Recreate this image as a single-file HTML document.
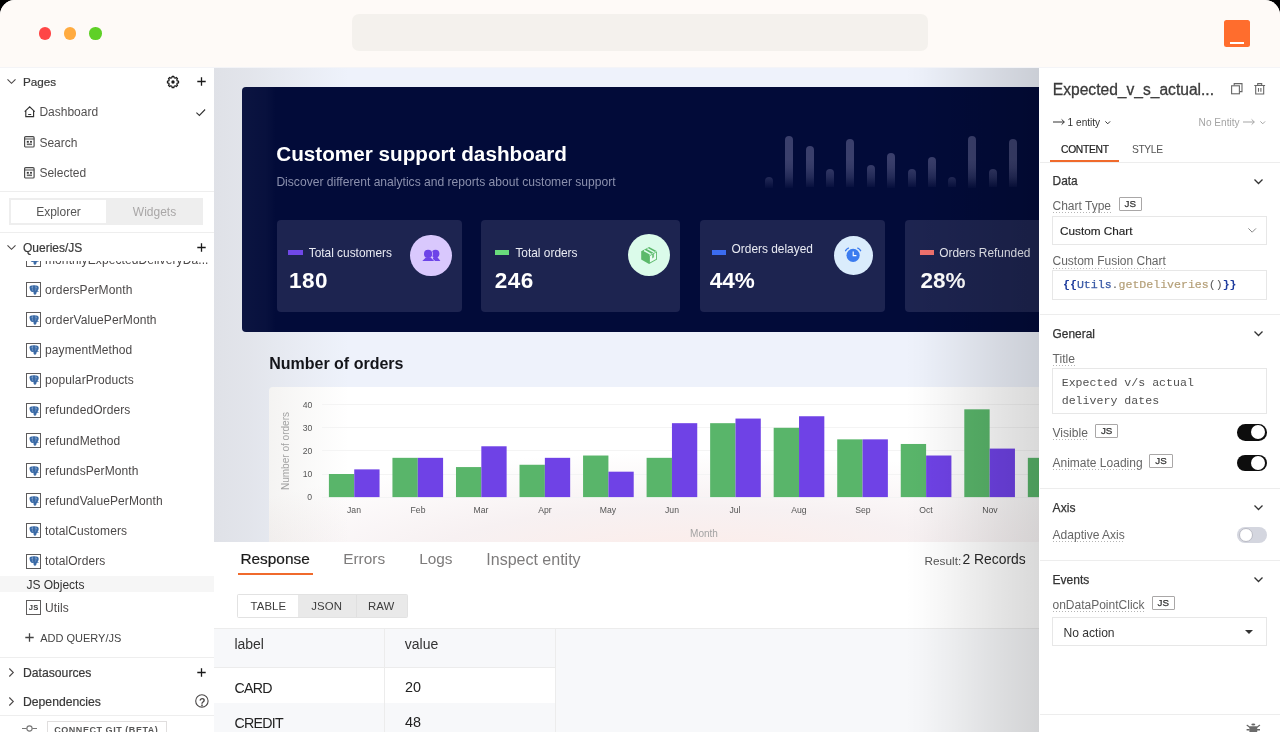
<!DOCTYPE html>
<html>
<head>
<meta charset="utf-8">
<title>Customer support dashboard</title>
<style>
*{box-sizing:border-box;margin:0;padding:0}
html,body{width:1280px;height:732px;overflow:hidden;background:#000;font-family:"Liberation Sans",sans-serif;}
#win{will-change:transform;position:absolute;left:0;top:0;width:1280px;height:732px;background:#fff;border-radius:15px 15px 0 0;overflow:hidden;}
.abs{position:absolute}
.t{position:absolute;white-space:nowrap;transform:translateY(-50%);line-height:1;color:#4b4848}
svg{position:absolute;overflow:visible}
/* title bar */
#tb{position:absolute;left:0;top:0;width:1280px;height:68px;background:#fefaf7;border-bottom:1px solid #f4f4f7}
.dot{position:absolute;width:12.6px;height:12.6px;border-radius:50%;top:27.2px}
#url{position:absolute;left:352px;top:14px;width:576px;height:37px;border-radius:7px;background:#f4f1ed}
#logo{position:absolute;left:1224.2px;top:19.5px;width:26px;height:27.2px;border-radius:2.5px;background:#ff6d2d}
#logo i{position:absolute;left:6px;top:22.6px;width:14px;height:2.1px;background:#fff}
/* sidebar */
#sb{position:absolute;left:0;top:68px;width:214px;height:664px;background:#fff;overflow:hidden}
.hr{position:absolute;left:0;height:1px;background:#eeeeee}
.sbh{font-size:13px;color:#393939;left:23px;-webkit-text-stroke:0.2px #393939}
.pg{font-size:12px;color:#514f4f;left:39.4px}
.q{font-size:12px;color:#4b4848;left:45px;letter-spacing:0.1px}
.qi{position:absolute;left:26.1px;width:15px;height:15px;border:1px solid #5e5c5c;background:#fff}

#cv{position:absolute;left:214px;top:68px;width:826px;height:475px;background:#eef2fb;overflow:hidden}
#bn{position:absolute;width:900px;height:244.5px;background:#020b39;border-radius:4px;overflow:hidden}
.db{position:absolute;width:8px;border-radius:4px 4px 0 0;background:#3a3f6c}
#dbf{position:absolute;left:518px;top:72px;width:270px;height:29px;background:linear-gradient(to bottom,rgba(2,11,57,0),rgba(2,11,57,0.12) 30%,rgba(2,11,57,0.4) 62%,rgba(2,11,57,0.95) 100%)}
.sc{position:absolute;background:#1d2450;border-radius:4px}
#cc{position:absolute;width:800px;height:200px;background:#fff;border-radius:4px 0 0 0;overflow:hidden;background:radial-gradient(ellipse 520px 110px at 420px 175px,#fdece8 0%,rgba(253,240,236,0.6) 50%,#fff 100%)}
.gl{position:absolute;left:53.3px;right:0;height:1px;background:#f4f4f4}
.ax{font-size:9.3px;color:#555;transform:translateY(-50%) scaleX(.93)}
#vl{position:absolute;left:0;top:0;width:135px;height:475px;background:linear-gradient(to right,rgba(121,109,93,0.125) 0,rgba(121,109,93,0.10) 25%,rgba(121,109,93,0.05) 60%,rgba(121,109,93,0) 100%)}

#bp{position:absolute;left:214px;top:542px;width:826px;height:190px;background:#fff;overflow:hidden}
.seg{font-size:11.4px;color:#3c3c3c;letter-spacing:0.1px}
.cell{font-size:14.2px;color:#222;letter-spacing:-0.7px}
#rp{position:absolute;left:1040px;top:68px;width:240px;height:664px;background:#fff;overflow:hidden}
.sh{color:#333;-webkit-text-stroke:0.25px #333}
.lb{color:#666}
.du{height:1px;background-image:linear-gradient(to right,#b5b5b5 50%,rgba(255,255,255,0) 50%);background-size:3px 1px}
.js{position:absolute;margin-top:-0.6px;width:23.6px;height:13.8px;border:1px solid #a9a7a7;border-radius:1px;background:#fff;font-size:9.8px;color:#333;-webkit-text-stroke:0.25px #333;text-align:center;line-height:12px}
.bx{border:1px solid #e7e7e7;background:#fff}
.mn{font-family:"Liberation Mono",monospace;font-size:11.6px;color:#505050}
#shd{position:absolute;left:905px;top:68px;width:134px;height:664px;background:linear-gradient(to right,rgba(0,0,0,0) 0%,rgba(0,0,0,0.012) 12%,rgba(0,0,0,0.045) 33%,rgba(0,0,0,0.105) 70%,rgba(0,0,0,0.148) 100%);pointer-events:none}
#edge{position:absolute;left:1039px;top:68px;width:2px;height:664px;background:#fff}
</style>
</head>
<body>
<div id="win">

<!-- ============ TITLE BAR ============ -->
<div id="tb">
  <div class="dot" style="left:38.8px;background:#ff4646"></div>
  <div class="dot" style="left:63.9px;background:#ffab40"></div>
  <div class="dot" style="left:89px;background:#5fd026"></div>
  <div id="url"></div>
  <div id="logo"><i></i></div>
</div>

<!-- ============ SIDEBAR ============ -->
<div id="sb">
<svg style="left:6.699999999999999px;top:11.4px" width="9" height="5" viewBox="0 0 9 5"><path d="M0.5 0.3 L4.5 4.3 L8.5 0.3" fill="none" stroke="#4b4848" stroke-width="1.1"/></svg>
<div class="t sbh" style="top:14.3px;font-size:11.7px">Pages</div>
<svg style="left:167px;top:8px" width="12" height="12" viewBox="0 0 12 12"><path d="M5.12 0.47L6.88 0.47L7.09 1.74L8.24 2.21L9.29 1.47L10.53 2.71L9.79 3.76L10.26 4.91L11.53 5.12L11.53 6.88L10.26 7.09L9.79 8.24L10.53 9.29L9.29 10.53L8.24 9.79L7.09 10.26L6.88 11.53L5.12 11.53L4.91 10.26L3.76 9.79L2.71 10.53L1.47 9.29L2.21 8.24L1.74 7.09L0.47 6.88L0.47 5.12L1.74 4.91L2.21 3.76L1.47 2.71L2.71 1.47L3.76 2.21L4.91 1.74Z" fill="none" stroke="#1a1a1a" stroke-width="1.250" stroke-linejoin="round"/><circle cx="6" cy="6" r="1.700" fill="#1a1a1a"/></svg>
<svg style="left:196.8px;top:9.4px" width="9" height="9" viewBox="0 0 9 9"><path d="M4.5 0.3V8.7M0.3 4.5H8.7" fill="none" stroke="#1a1a1a" stroke-width="1.3"/></svg>
<svg style="left:23.8px;top:38px" width="11.4" height="11.5" viewBox="0 0 22 23"><path d="M3.2 10.2V21.2H18.8V10.2M1 11.2L11 1.6L21 11.2M8 17H14" fill="none" stroke="#333" stroke-width="2.3" stroke-linejoin="miter"/></svg>
<div class="t pg" style="top:44.3px">Dashboard</div>
<svg style="left:196px;top:40.5px" width="9.5" height="7" viewBox="0 0 9.5 7"><path d="M0.4 3.6L3.4 6.4L9.1 0.5" fill="none" stroke="#333" stroke-width="1.1"/></svg>
<svg style="left:24.3px;top:68.4px" width="10.7" height="11.6" viewBox="0 0 21.4 23.2"><rect x="1.2" y="1.2" width="19" height="20.8" rx="2.2" fill="none" stroke="#4a4a4a" stroke-width="2.4"/><path d="M1.2 6H20.2" stroke="#4a4a4a" stroke-width="2.2"/><rect x="5.6" y="9.8" width="4" height="3.6" fill="#333"/><rect x="12" y="9.8" width="4" height="3.6" fill="#444"/><rect x="5.6" y="15" width="10.4" height="3.2" fill="#666"/></svg>
<div class="t pg" style="top:74.7px">Search</div>
<svg style="left:24.3px;top:98.5px" width="10.7" height="11.6" viewBox="0 0 21.4 23.2"><rect x="1.2" y="1.2" width="19" height="20.8" rx="2.2" fill="none" stroke="#4a4a4a" stroke-width="2.4"/><path d="M1.2 6H20.2" stroke="#4a4a4a" stroke-width="2.2"/><rect x="5.6" y="9.8" width="4" height="3.6" fill="#333"/><rect x="12" y="9.8" width="4" height="3.6" fill="#444"/><rect x="5.6" y="15" width="10.4" height="3.2" fill="#666"/></svg>
<div class="t pg" style="top:104.8px">Selected</div>
<div class="hr" style="top:122.5px;width:214px"></div>
<div class="abs" style="left:9px;top:130px;width:194.4px;height:26.6px;background:#eeeeee"></div>
<div class="abs" style="left:11px;top:132px;width:95px;height:23px;background:#fff"></div>
<div class="t" style="left:11px;width:95px;text-align:center;top:144px;font-size:12px;color:#555">Explorer</div>
<div class="t" style="left:106px;width:97px;text-align:center;top:144px;font-size:12px;color:#a9a7a7">Widgets</div>
<div class="hr" style="top:164px;width:214px"></div>
<svg style="left:6.7px;top:177.3px" width="9" height="5" viewBox="0 0 9 5"><path d="M0.5 0.3 L4.5 4.3 L8.5 0.3" fill="none" stroke="#4b4848" stroke-width="1.1"/></svg>
<div class="t sbh" style="top:180.3px;font-size:12px">Queries/JS</div>
<svg style="left:196.8px;top:175.3px" width="9" height="9" viewBox="0 0 9 9"><path d="M4.5 0.3V8.7M0.3 4.5H8.7" fill="none" stroke="#1a1a1a" stroke-width="1.3"/></svg>
<div class="abs" id="ql" style="left:0;top:192.8px;width:214px;height:320px;overflow:hidden">
<div class="qi" style="top:-8.65px"><svg style="left:2px;top:1.700px" width="10" height="10" viewBox="0 0 10 10"><path d="M0.500 2.600C0.300 0.900 1.800 0.100 3.500 0.500C4.400 0.100 5.800 0.100 6.700 0.500C8.600 0.100 9.900 1.300 9.700 3.100C9.600 4.400 9 5.600 8.100 6.400L9.700 6.100L9.500 6.700L7.500 7.200C7.600 8.300 7.200 9.800 5.900 9.800C4.700 9.800 4.500 8.700 4.500 7.600L4.500 6.700C3.600 7.300 2.300 7 1.600 6C0.900 5 0.600 3.700 0.500 2.600Z" fill="#3a6aa6"/><path d="M3.600 0.800C3.200 2.300 3.300 4.400 3.800 6.200M6.600 0.800C7.200 2.300 7 4.400 6.400 5.600" fill="none" stroke="#a9c1de" stroke-width="0.450"/><circle cx="3" cy="2.700" r="0.400" fill="#dce8f5"/><circle cx="7.100" cy="2.600" r="0.400" fill="#dce8f5"/></svg></div><div class="t q" style="top:-1.05px">monthlyExpectedDeliveryDa...</div>
<div class="qi" style="top:21.50px"><svg style="left:2px;top:1.700px" width="10" height="10" viewBox="0 0 10 10"><path d="M0.500 2.600C0.300 0.900 1.800 0.100 3.500 0.500C4.400 0.100 5.800 0.100 6.700 0.500C8.600 0.100 9.900 1.300 9.700 3.100C9.600 4.400 9 5.600 8.100 6.400L9.700 6.100L9.500 6.700L7.500 7.200C7.600 8.300 7.200 9.800 5.900 9.800C4.700 9.800 4.500 8.700 4.500 7.600L4.500 6.700C3.600 7.300 2.300 7 1.600 6C0.900 5 0.600 3.700 0.500 2.600Z" fill="#3a6aa6"/><path d="M3.600 0.800C3.200 2.300 3.300 4.400 3.800 6.200M6.600 0.800C7.200 2.300 7 4.400 6.400 5.600" fill="none" stroke="#a9c1de" stroke-width="0.450"/><circle cx="3" cy="2.700" r="0.400" fill="#dce8f5"/><circle cx="7.100" cy="2.600" r="0.400" fill="#dce8f5"/></svg></div><div class="t q" style="top:29.10px">ordersPerMonth</div>
<div class="qi" style="top:51.65px"><svg style="left:2px;top:1.700px" width="10" height="10" viewBox="0 0 10 10"><path d="M0.500 2.600C0.300 0.900 1.800 0.100 3.500 0.500C4.400 0.100 5.800 0.100 6.700 0.500C8.600 0.100 9.900 1.300 9.700 3.100C9.600 4.400 9 5.600 8.100 6.400L9.700 6.100L9.500 6.700L7.500 7.200C7.600 8.300 7.200 9.800 5.900 9.800C4.700 9.800 4.500 8.700 4.500 7.600L4.500 6.700C3.600 7.300 2.300 7 1.600 6C0.900 5 0.600 3.700 0.500 2.600Z" fill="#3a6aa6"/><path d="M3.600 0.800C3.200 2.300 3.300 4.400 3.800 6.200M6.600 0.800C7.200 2.300 7 4.400 6.400 5.600" fill="none" stroke="#a9c1de" stroke-width="0.450"/><circle cx="3" cy="2.700" r="0.400" fill="#dce8f5"/><circle cx="7.100" cy="2.600" r="0.400" fill="#dce8f5"/></svg></div><div class="t q" style="top:59.25px">orderValuePerMonth</div>
<div class="qi" style="top:81.80px"><svg style="left:2px;top:1.700px" width="10" height="10" viewBox="0 0 10 10"><path d="M0.500 2.600C0.300 0.900 1.800 0.100 3.500 0.500C4.400 0.100 5.800 0.100 6.700 0.500C8.600 0.100 9.900 1.300 9.700 3.100C9.600 4.400 9 5.600 8.100 6.400L9.700 6.100L9.500 6.700L7.500 7.200C7.600 8.300 7.200 9.800 5.900 9.800C4.700 9.800 4.500 8.700 4.500 7.600L4.500 6.700C3.600 7.300 2.300 7 1.600 6C0.900 5 0.600 3.700 0.500 2.600Z" fill="#3a6aa6"/><path d="M3.600 0.800C3.200 2.300 3.300 4.400 3.800 6.200M6.600 0.800C7.200 2.300 7 4.400 6.400 5.600" fill="none" stroke="#a9c1de" stroke-width="0.450"/><circle cx="3" cy="2.700" r="0.400" fill="#dce8f5"/><circle cx="7.100" cy="2.600" r="0.400" fill="#dce8f5"/></svg></div><div class="t q" style="top:89.40px">paymentMethod</div>
<div class="qi" style="top:111.95px"><svg style="left:2px;top:1.700px" width="10" height="10" viewBox="0 0 10 10"><path d="M0.500 2.600C0.300 0.900 1.800 0.100 3.500 0.500C4.400 0.100 5.800 0.100 6.700 0.500C8.600 0.100 9.900 1.300 9.700 3.100C9.600 4.400 9 5.600 8.100 6.400L9.700 6.100L9.500 6.700L7.500 7.200C7.600 8.300 7.200 9.800 5.900 9.800C4.700 9.800 4.500 8.700 4.500 7.600L4.500 6.700C3.600 7.300 2.300 7 1.600 6C0.900 5 0.600 3.700 0.500 2.600Z" fill="#3a6aa6"/><path d="M3.600 0.800C3.200 2.300 3.300 4.400 3.800 6.200M6.600 0.800C7.200 2.300 7 4.400 6.400 5.600" fill="none" stroke="#a9c1de" stroke-width="0.450"/><circle cx="3" cy="2.700" r="0.400" fill="#dce8f5"/><circle cx="7.100" cy="2.600" r="0.400" fill="#dce8f5"/></svg></div><div class="t q" style="top:119.55px">popularProducts</div>
<div class="qi" style="top:142.10px"><svg style="left:2px;top:1.700px" width="10" height="10" viewBox="0 0 10 10"><path d="M0.500 2.600C0.300 0.900 1.800 0.100 3.500 0.500C4.400 0.100 5.800 0.100 6.700 0.500C8.600 0.100 9.900 1.300 9.700 3.100C9.600 4.400 9 5.600 8.100 6.400L9.700 6.100L9.500 6.700L7.500 7.200C7.600 8.300 7.200 9.800 5.900 9.800C4.700 9.800 4.500 8.700 4.500 7.600L4.500 6.700C3.600 7.300 2.300 7 1.600 6C0.900 5 0.600 3.700 0.500 2.600Z" fill="#3a6aa6"/><path d="M3.600 0.800C3.200 2.300 3.300 4.400 3.800 6.200M6.600 0.800C7.200 2.300 7 4.400 6.400 5.600" fill="none" stroke="#a9c1de" stroke-width="0.450"/><circle cx="3" cy="2.700" r="0.400" fill="#dce8f5"/><circle cx="7.100" cy="2.600" r="0.400" fill="#dce8f5"/></svg></div><div class="t q" style="top:149.70px">refundedOrders</div>
<div class="qi" style="top:172.25px"><svg style="left:2px;top:1.700px" width="10" height="10" viewBox="0 0 10 10"><path d="M0.500 2.600C0.300 0.900 1.800 0.100 3.500 0.500C4.400 0.100 5.800 0.100 6.700 0.500C8.600 0.100 9.900 1.300 9.700 3.100C9.600 4.400 9 5.600 8.100 6.400L9.700 6.100L9.500 6.700L7.500 7.200C7.600 8.300 7.200 9.800 5.900 9.800C4.700 9.800 4.500 8.700 4.500 7.600L4.500 6.700C3.600 7.300 2.300 7 1.600 6C0.900 5 0.600 3.700 0.500 2.600Z" fill="#3a6aa6"/><path d="M3.600 0.800C3.200 2.300 3.300 4.400 3.800 6.200M6.600 0.800C7.200 2.300 7 4.400 6.400 5.600" fill="none" stroke="#a9c1de" stroke-width="0.450"/><circle cx="3" cy="2.700" r="0.400" fill="#dce8f5"/><circle cx="7.100" cy="2.600" r="0.400" fill="#dce8f5"/></svg></div><div class="t q" style="top:179.85px">refundMethod</div>
<div class="qi" style="top:202.40px"><svg style="left:2px;top:1.700px" width="10" height="10" viewBox="0 0 10 10"><path d="M0.500 2.600C0.300 0.900 1.800 0.100 3.500 0.500C4.400 0.100 5.800 0.100 6.700 0.500C8.600 0.100 9.900 1.300 9.700 3.100C9.600 4.400 9 5.600 8.100 6.400L9.700 6.100L9.500 6.700L7.500 7.200C7.600 8.300 7.200 9.800 5.900 9.800C4.700 9.800 4.500 8.700 4.500 7.600L4.500 6.700C3.600 7.300 2.300 7 1.600 6C0.900 5 0.600 3.700 0.500 2.600Z" fill="#3a6aa6"/><path d="M3.600 0.800C3.200 2.300 3.300 4.400 3.800 6.200M6.600 0.800C7.200 2.300 7 4.400 6.400 5.600" fill="none" stroke="#a9c1de" stroke-width="0.450"/><circle cx="3" cy="2.700" r="0.400" fill="#dce8f5"/><circle cx="7.100" cy="2.600" r="0.400" fill="#dce8f5"/></svg></div><div class="t q" style="top:210.00px">refundsPerMonth</div>
<div class="qi" style="top:232.55px"><svg style="left:2px;top:1.700px" width="10" height="10" viewBox="0 0 10 10"><path d="M0.500 2.600C0.300 0.900 1.800 0.100 3.500 0.500C4.400 0.100 5.800 0.100 6.700 0.500C8.600 0.100 9.900 1.300 9.700 3.100C9.600 4.400 9 5.600 8.100 6.400L9.700 6.100L9.500 6.700L7.500 7.200C7.600 8.300 7.200 9.800 5.900 9.800C4.700 9.800 4.500 8.700 4.500 7.600L4.500 6.700C3.600 7.300 2.300 7 1.600 6C0.900 5 0.600 3.700 0.500 2.600Z" fill="#3a6aa6"/><path d="M3.600 0.800C3.200 2.300 3.300 4.400 3.800 6.200M6.600 0.800C7.200 2.300 7 4.400 6.400 5.600" fill="none" stroke="#a9c1de" stroke-width="0.450"/><circle cx="3" cy="2.700" r="0.400" fill="#dce8f5"/><circle cx="7.100" cy="2.600" r="0.400" fill="#dce8f5"/></svg></div><div class="t q" style="top:240.15px">refundValuePerMonth</div>
<div class="qi" style="top:262.70px"><svg style="left:2px;top:1.700px" width="10" height="10" viewBox="0 0 10 10"><path d="M0.500 2.600C0.300 0.900 1.800 0.100 3.500 0.500C4.400 0.100 5.800 0.100 6.700 0.500C8.600 0.100 9.900 1.300 9.700 3.100C9.600 4.400 9 5.600 8.100 6.400L9.700 6.100L9.500 6.700L7.500 7.200C7.600 8.300 7.200 9.800 5.900 9.800C4.700 9.800 4.500 8.700 4.500 7.600L4.500 6.700C3.600 7.300 2.300 7 1.600 6C0.900 5 0.600 3.700 0.500 2.600Z" fill="#3a6aa6"/><path d="M3.600 0.800C3.200 2.300 3.300 4.400 3.800 6.200M6.600 0.800C7.200 2.300 7 4.400 6.400 5.600" fill="none" stroke="#a9c1de" stroke-width="0.450"/><circle cx="3" cy="2.700" r="0.400" fill="#dce8f5"/><circle cx="7.100" cy="2.600" r="0.400" fill="#dce8f5"/></svg></div><div class="t q" style="top:270.30px">totalCustomers</div>
<div class="qi" style="top:292.85px"><svg style="left:2px;top:1.700px" width="10" height="10" viewBox="0 0 10 10"><path d="M0.500 2.600C0.300 0.900 1.800 0.100 3.500 0.500C4.400 0.100 5.800 0.100 6.700 0.500C8.600 0.100 9.900 1.300 9.700 3.100C9.600 4.400 9 5.600 8.100 6.400L9.700 6.100L9.500 6.700L7.500 7.200C7.600 8.300 7.200 9.800 5.900 9.800C4.700 9.800 4.500 8.700 4.500 7.600L4.500 6.700C3.600 7.300 2.300 7 1.600 6C0.900 5 0.600 3.700 0.500 2.600Z" fill="#3a6aa6"/><path d="M3.600 0.800C3.200 2.300 3.300 4.400 3.800 6.200M6.600 0.800C7.200 2.300 7 4.400 6.400 5.600" fill="none" stroke="#a9c1de" stroke-width="0.450"/><circle cx="3" cy="2.700" r="0.400" fill="#dce8f5"/><circle cx="7.100" cy="2.600" r="0.400" fill="#dce8f5"/></svg></div><div class="t q" style="top:300.45px">totalOrders</div>
</div>
<div class="abs" style="left:0;top:508.2px;width:214px;height:15.6px;background:#f6f6f6"></div>
<div class="t" style="left:26.4px;top:516.5px;font-size:12px;color:#333">JS Objects</div>
<div class="qi" style="top:532.3px"><div class="t" style="left:0;width:13px;text-align:center;top:6.8px;font-size:7.6px;font-weight:bold;color:#3a3a3a;letter-spacing:0.3px">JS</div></div>
<div class="t q" style="top:539.7px">Utils</div>
<svg style="left:24.9px;top:564.9px" width="9" height="9" viewBox="0 0 9 9"><path d="M4.5 0.3V8.7M0.3 4.5H8.7" fill="none" stroke="#444" stroke-width="1.3"/></svg>
<div class="t" style="left:40.2px;top:569.7px;font-size:11px;color:#444">ADD QUERY/JS</div>
<div class="hr" style="top:589px;width:214px"></div>
<svg style="left:8.7px;top:600.4px" width="5" height="9" viewBox="0 0 5 9"><path d="M0.3 0.5 L4.3 4.5 L0.3 8.5" fill="none" stroke="#4b4848" stroke-width="1.1"/></svg>
<div class="t sbh" style="top:605.2px;font-size:12.2px">Datasources</div>
<svg style="left:196.8px;top:600.4px" width="9" height="9" viewBox="0 0 9 9"><path d="M4.5 0.3V8.7M0.3 4.5H8.7" fill="none" stroke="#1a1a1a" stroke-width="1.3"/></svg>
<svg style="left:8.7px;top:628.7px" width="5" height="9" viewBox="0 0 5 9"><path d="M0.3 0.5 L4.3 4.5 L0.3 8.5" fill="none" stroke="#4b4848" stroke-width="1.1"/></svg>
<div class="t sbh" style="top:633.5px;font-size:12.2px">Dependencies</div>
<svg style="left:195.200px;top:626.4px" width="13.800" height="13.800" viewBox="0 0 13.800 13.800"><circle cx="6.900" cy="6.900" r="6.200" fill="none" stroke="#4b4848" stroke-width="1.1"/></svg>
<div class="t" style="left:195.2px;width:13.8px;text-align:center;top:633.6px;font-size:10.5px;font-weight:bold;color:#4b4848">?</div>
<div class="hr" style="top:646.5px;width:214px"></div>
<svg style="left:22px;top:657.4px" width="15" height="7" viewBox="0 0 15 7"><path d="M0 3.500H4.800M10.200 3.500H15" stroke="#777" stroke-width="1.1"/><circle cx="7.500" cy="3.500" r="2.600" fill="none" stroke="#777" stroke-width="1.100"/></svg>
<div class="abs" style="left:46.5px;top:653.4px;width:120px;height:20px;border:1px solid #e0dede;background:#fff"></div>
<div class="t" style="left:54.2px;top:661.6px;font-size:9px;font-weight:bold;letter-spacing:0.55px;color:#575757">CONNECT GIT (BETA)</div>
</div>

<!-- ============ CANVAS ============ -->
<div id="cv">
<div id="vl"></div>
<div id="bn" style="left:28px;top:19px">
<div class="abs" style="left:0;top:0;width:34px;height:245px;background:linear-gradient(to right,rgba(255,255,255,0.04),rgba(255,255,255,0.025) 70%,rgba(255,255,255,0))"></div>
<div class="t" style="left:34.2px;top:67.2px;font-size:20.7px;font-weight:bold;color:#fff">Customer support dashboard</div>
<div class="t" style="left:34.4px;top:95.3px;font-size:12.1px;color:#8b90ad">Discover different analytics and reports about customer support</div>
<div class="db" style="left:523px;top:90px;height:10.5px"></div>
<div class="db" style="left:543.4px;top:49px;height:51.5px"></div>
<div class="db" style="left:563.8px;top:58.8px;height:41.7px"></div>
<div class="db" style="left:583.9px;top:81.7px;height:18.8px"></div>
<div class="db" style="left:604.3px;top:51.7px;height:48.8px"></div>
<div class="db" style="left:624.7px;top:77.8px;height:22.7px"></div>
<div class="db" style="left:645.1px;top:66px;height:34.5px"></div>
<div class="db" style="left:665.5px;top:81.7px;height:18.8px"></div>
<div class="db" style="left:685.9px;top:69.6px;height:30.9px"></div>
<div class="db" style="left:706px;top:89.7px;height:10.8px"></div>
<div class="db" style="left:726.4px;top:49px;height:51.5px"></div>
<div class="db" style="left:746.8px;top:81.7px;height:18.8px"></div>
<div class="db" style="left:767.2px;top:51.7px;height:48.8px"></div>
<div id="dbf"></div>
<div class="sc" style="left:34.5px;top:133px;width:185.5px;height:92.3px"></div>
<div class="abs" style="left:46.4px;top:162.5px;width:14.2px;height:5.5px;background:#7048e8"></div>
<div class="t" style="left:66.7px;top:166.5px;font-size:11.9px;color:#e9ebf3">Total customers</div>
<div class="t" style="left:47px;top:193.6px;font-size:22.5px;font-weight:bold;letter-spacing:0.5px;color:#fff">180</div>
<div class="sc" style="left:239px;top:133px;width:199.0px;height:92.3px"></div>
<div class="abs" style="left:252.5px;top:162.5px;width:14.2px;height:5.5px;background:#69db7c"></div>
<div class="t" style="left:273.4px;top:166.5px;font-size:11.9px;color:#e9ebf3">Total orders</div>
<div class="t" style="left:252.7px;top:193.6px;font-size:22.5px;font-weight:bold;letter-spacing:0.5px;color:#fff">246</div>
<div class="sc" style="left:457.8px;top:133px;width:185.2px;height:92.3px"></div>
<div class="abs" style="left:470.2px;top:162.5px;width:14.2px;height:5.5px;background:#3b6cf0"></div>
<div class="t" style="left:489.6px;top:163.2px;font-size:11.9px;color:#e9ebf3">Orders delayed</div>
<div class="t" style="left:467.7px;top:193.6px;font-size:22.5px;font-weight:bold;color:#fff">44%</div>
<div class="sc" style="left:662.6px;top:133px;width:195.4px;height:92.3px"></div>
<div class="abs" style="left:677.5px;top:162.5px;width:14.2px;height:5.5px;background:#f0726e"></div>
<div class="t" style="left:697.2px;top:166.5px;font-size:11.9px;color:#e9ebf3">Orders Refunded</div>
<div class="t" style="left:678.6px;top:193.6px;font-size:22.5px;font-weight:bold;color:#fff">28%</div>
<div class="abs" style="left:168.3px;top:147.6px;width:41.4px;height:41.4px;border-radius:50%;background:#d9c8fd"></div>
<div class="abs" style="left:386.3px;top:147.3px;width:42px;height:42px;border-radius:50%;background:#dbfbea"></div>
<div class="abs" style="left:591.6px;top:149.1px;width:39px;height:39px;border-radius:50%;background:#daecfc"></div>
<svg style="left:178px;top:160px" width="24" height="16" viewBox="420 247 24 16"><circle cx="435.500" cy="253.700" r="3.900" fill="#6d44e8"/><path d="M432 261.100L433.500 257H437.300L440.400 261.100Z" fill="#6d44e8"/><g stroke="#d9c8fd" stroke-width="1.500" stroke-linejoin="round"><circle cx="428.100" cy="253.950" r="4.100" fill="#6d44e8"/><path d="M422.300 261.100L425.800 258H430.700L434.200 261.100Z" fill="#6d44e8"/></g><rect x="420" y="261.150" width="24" height="3" fill="#d9c8fd"/><circle cx="428.100" cy="253.950" r="4.100" fill="#6d44e8"/><path d="M422.300 261.100L425.800 257.500H430.700L434.200 261.100Z" fill="#6d44e8"/></svg>
<svg style="left:397px;top:158px" width="21" height="21" viewBox="639 245 21 21"><path d="M649.100 246.900L657 251.300V259.500L649.100 263.900L641.200 259.500V251.300Z" fill="#5bb96a"/><path d="M649.900 256.100L656.100 252.600V258.900L649.900 262.400Z" fill="#e9fcf1"/><path d="M649.100 255.300L657 251" stroke="#dbfbea" stroke-width="0.700" fill="none"/><path d="M644.100 250.500L650.700 254.100M647.400 248.700L654.200 252.400" stroke="#dbfbea" stroke-width="1.500" fill="none"/><path d="M652.100 254.300L654.100 253.200V257.300L652.100 258.400Z" fill="#5bb96a" opacity="0.800"/></svg>
<svg style="left:601px;top:158px" width="21" height="21" viewBox="843 245 21 21"><circle cx="853.100" cy="255.300" r="6.600" fill="#3b7bef"/><path d="M853.200 251.500V255.600H856.400" stroke="#fff" stroke-width="1.100" fill="none"/><path d="M845.600 250.700Q846.600 248.800 848.400 248.100M857.800 248.100Q859.600 248.800 860.600 250.700" stroke="#3b7bef" stroke-width="1.400" stroke-linecap="round" fill="none"/></svg>
</div>
<div class="t" style="left:55.2px;top:296px;font-size:16px;font-weight:bold;color:#14151a">Number of orders</div>
<div id="cc" style="left:55px;top:319px">
<div class="abs" style="left:-55px;top:0;width:135px;height:200px;background:linear-gradient(to right,rgba(121,109,93,0.125) 0,rgba(121,109,93,0.10) 25%,rgba(121,109,93,0.05) 60%,rgba(121,109,93,0) 100%)"></div>
<div class="gl" style="top:109.60px"></div>
<div class="t ax" style="right:756.7px;top:111.20px;transform-origin:right center">0</div>
<div class="gl" style="top:86.50px"></div>
<div class="t ax" style="right:756.7px;top:88.10px;transform-origin:right center">10</div>
<div class="gl" style="top:63.40px"></div>
<div class="t ax" style="right:756.7px;top:65.00px;transform-origin:right center">20</div>
<div class="gl" style="top:40.30px"></div>
<div class="t ax" style="right:756.7px;top:41.90px;transform-origin:right center">30</div>
<div class="gl" style="top:17.20px"></div>
<div class="t ax" style="right:756.7px;top:18.80px;transform-origin:right center">40</div>
<svg style="left:0;top:0" width="800" height="160" viewBox="0 0 800 160"><rect x="59.90" y="87.00" width="25.35" height="23.10" fill="#59b56a"/><rect x="85.25" y="82.38" width="25.3" height="27.72" fill="#6f42e6"/><rect x="123.44" y="70.83" width="25.35" height="39.27" fill="#59b56a"/><rect x="148.79" y="70.83" width="25.3" height="39.27" fill="#6f42e6"/><rect x="186.98" y="80.07" width="25.35" height="30.03" fill="#59b56a"/><rect x="212.33" y="59.28" width="25.3" height="50.82" fill="#6f42e6"/><rect x="250.52" y="77.76" width="25.35" height="32.34" fill="#59b56a"/><rect x="275.87" y="70.83" width="25.3" height="39.27" fill="#6f42e6"/><rect x="314.06" y="68.52" width="25.35" height="41.58" fill="#59b56a"/><rect x="339.41" y="84.69" width="25.3" height="25.41" fill="#6f42e6"/><rect x="377.60" y="70.83" width="25.35" height="39.27" fill="#59b56a"/><rect x="402.95" y="36.18" width="25.3" height="73.92" fill="#6f42e6"/><rect x="441.14" y="36.18" width="25.35" height="73.92" fill="#59b56a"/><rect x="466.49" y="31.56" width="25.3" height="78.54" fill="#6f42e6"/><rect x="504.68" y="40.80" width="25.35" height="69.30" fill="#59b56a"/><rect x="530.03" y="29.25" width="25.3" height="80.85" fill="#6f42e6"/><rect x="568.22" y="52.35" width="25.35" height="57.75" fill="#59b56a"/><rect x="593.57" y="52.35" width="25.3" height="57.75" fill="#6f42e6"/><rect x="631.76" y="56.97" width="25.35" height="53.13" fill="#59b56a"/><rect x="657.11" y="68.52" width="25.3" height="41.58" fill="#6f42e6"/><rect x="695.30" y="22.32" width="25.35" height="87.78" fill="#59b56a"/><rect x="720.65" y="61.59" width="25.3" height="48.51" fill="#6f42e6"/><rect x="758.84" y="70.83" width="25.35" height="39.27" fill="#59b56a"/><rect x="784.19" y="63.90" width="25.3" height="46.20" fill="#6f42e6"/></svg>
<div class="t ax" style="left:65.25px;width:40px;text-align:center;top:123.80px">Jan</div>
<div class="t ax" style="left:128.79px;width:40px;text-align:center;top:123.80px">Feb</div>
<div class="t ax" style="left:192.33px;width:40px;text-align:center;top:123.80px">Mar</div>
<div class="t ax" style="left:255.87px;width:40px;text-align:center;top:123.80px">Apr</div>
<div class="t ax" style="left:319.41px;width:40px;text-align:center;top:123.80px">May</div>
<div class="t ax" style="left:382.95px;width:40px;text-align:center;top:123.80px">Jun</div>
<div class="t ax" style="left:446.49px;width:40px;text-align:center;top:123.80px">Jul</div>
<div class="t ax" style="left:510.03px;width:40px;text-align:center;top:123.80px">Aug</div>
<div class="t ax" style="left:573.57px;width:40px;text-align:center;top:123.80px">Sep</div>
<div class="t ax" style="left:637.11px;width:40px;text-align:center;top:123.80px">Oct</div>
<div class="t ax" style="left:700.65px;width:40px;text-align:center;top:123.80px">Nov</div>
<div class="t ax" style="left:764.19px;width:40px;text-align:center;top:123.80px">Dec</div>
<div class="t ax" style="left:405px;width:60px;text-align:center;top:146.2px;font-size:10.8px;color:#a3a3a3">Month</div>
<div class="t" style="left:16.6px;top:64px;font-size:10.05px;color:#a3a3a3;transform:translate(-50%,-50%) rotate(-90deg)">Number of orders</div>
</div>

</div>

<!-- ============ BOTTOM PANEL ============ -->
<div id="bp">
<div class="t" style="left:26.4px;top:17.3px;font-size:15.4px;color:#1a1a1a;-webkit-text-stroke:0.2px #1a1a1a">Response</div>
<div class="abs" style="left:23.5px;top:30.8px;width:75.3px;height:2px;background:#f06a2c"></div>
<div class="t" style="left:129.2px;top:17.3px;font-size:15.4px;color:#7d7b7b">Errors</div>
<div class="t" style="left:205.2px;top:17.3px;font-size:15.4px;color:#7d7b7b">Logs</div>
<div class="t" style="left:272.3px;top:18px;font-size:16px;color:#7d7b7b">Inspect entity</div>
<div class="t" style="left:710.6px;top:18.8px;font-size:11.75px;color:#555">Result:</div>
<div class="t" style="left:748.4px;top:18.4px;font-size:13.9px;color:#2a2a2a">2 Records</div>
<div class="abs" style="left:23.3px;top:52.3px;width:170.5px;height:24.2px;background:#e9e9e9;border:1px solid #e2e2e2;border-radius:1.5px"></div>
<div class="abs" style="left:24.2px;top:53.3px;width:59.8px;height:22.2px;background:#fff"></div>
<div class="abs" style="left:141.8px;top:53.3px;width:1px;height:22.2px;background:#e0e0e0"></div>
<div class="t seg" style="left:36.5px;top:64.9px">TABLE</div>
<div class="t seg" style="left:97.3px;top:64.9px">JSON</div>
<div class="t seg" style="left:154px;top:64.9px">RAW</div>
<div class="abs" style="left:0;top:86px;width:826px;height:110px;background:#f7f8fa;border-top:1.5px solid #ececec"></div>
<div class="abs" style="left:0;top:125.4px;width:341.4px;height:35.8px;background:#fff;border-top:1.5px solid #ececec"></div>
<div class="abs" style="left:170px;top:87px;width:1.2px;height:110px;background:#ececec"></div>
<div class="abs" style="left:341px;top:87px;width:1.2px;height:110px;background:#ececec"></div>
<div class="t" style="left:20.4px;top:102.3px;font-size:14px;color:#333">label</div>
<div class="t" style="left:190.8px;top:102.3px;font-size:14px;color:#333">value</div>
<div class="t cell" style="left:20.4px;top:145.8px">CARD</div>
<div class="t" style="left:191px;top:145.1px;font-size:14.4px;color:#222">20</div>
<div class="t cell" style="left:20.4px;top:180.8px">CREDIT</div>
<div class="t" style="left:191px;top:180.1px;font-size:14.4px;color:#222">48</div>
</div>

<div id="shd"></div><div id="edge"></div>
<!-- ============ RIGHT PANEL ============ -->
<div id="rp">
<div class="t" style="left:12.8px;top:22.2px;font-size:15.6px;color:#3a3a3a;-webkit-text-stroke:0.3px #3a3a3a">Expected_v_s_actual...</div>
<svg style="left:190.8px;top:15.4px" width="11.6" height="11.4" viewBox="0 0 11.6 11.4"><path d="M3.2 2.6V0.6H11V8.6H8.8" fill="none" stroke="#666" stroke-width="1.1"/><rect x="0.6" y="2.8" width="7.8" height="8" fill="#fff" stroke="#666" stroke-width="1.1"/></svg>
<svg style="left:214.4px;top:15.2px" width="11.4" height="11.6" viewBox="0 0 11.4 11.6"><path d="M0.300 2.500H11.100M3.700 2.300V0.600H7.700V2.300M1.700 2.700V11H9.700V2.700M4.500 5V8.700M6.900 5V8.700" fill="none" stroke="#666" stroke-width="1.100"/></svg>
<svg style="left:12.5px;top:51.3px" width="12" height="6" viewBox="0 0 12 6"><path d="M0 3H11.300M8.600 0.400L11.300 3L8.600 5.600" fill="none" stroke="#333" stroke-width="1"/></svg>
<div class="t" style="left:27.6px;top:54.5px;font-size:10.1px;color:#333">1 entity</div>
<svg style="left:64.8px;top:53.1px" width="5.500" height="3.500" viewBox="0 0 5.500 3.500"><path d="M0.400 0.400L2.750 2.800L5.100 0.400" fill="none" stroke="#333" stroke-width="1"/></svg>
<div class="t" style="left:158.6px;top:54.5px;font-size:10.1px;color:#a5a5a5">No Entity</div>
<svg style="left:202.8px;top:51.3px" width="12" height="6" viewBox="0 0 12 6"><path d="M0 3H11.300M8.600 0.400L11.300 3L8.600 5.600" fill="none" stroke="#a5a5a5" stroke-width="1"/></svg>
<svg style="left:219.5px;top:53.1px" width="5.500" height="3.500" viewBox="0 0 5.500 3.500"><path d="M0.400 0.400L2.750 2.800L5.100 0.400" fill="none" stroke="#a5a5a5" stroke-width="1"/></svg>
<div class="t" style="left:21px;top:82.1px;font-size:10.3px;letter-spacing:-0.3px;color:#222;-webkit-text-stroke:0.2px #222">CONTENT</div>
<div class="t" style="left:92px;top:82.1px;font-size:10.3px;letter-spacing:-0.4px;color:#555">STYLE</div>
<div class="hr" style="left:0;top:93.6px;width:240px;background:#ededed"></div>
<div class="abs" style="left:9.8px;top:92.2px;width:69.7px;height:2px;background:#f06a2c"></div>
<div class="t sh" style="left:12.6px;top:113.6px;font-size:11.9px">Data</div>
<svg style="left:214px;top:110.69999999999999px" width="9" height="5.500" viewBox="0 0 9 5.500"><path d="M0.500 0.500L4.500 4.500L8.500 0.500" fill="none" stroke="#333" stroke-width="1.300"/></svg>
<div class="t lb" style="left:12.5px;top:137.8px;font-size:12px">Chart Type</div>
<div class="abs du" style="left:12.5px;top:144.3px;width:59.1px"></div>
<div class="js" style="left:78.5px;top:129.60000000000002px">JS</div>
<div class="abs bx" style="left:12.4px;top:147.5px;width:214.6px;height:29.4px"></div>
<div class="t" style="left:20px;top:162.8px;font-size:11.75px;color:#1e1e1e;-webkit-text-stroke:0.15px #1e1e1e">Custom Chart</div>
<svg style="left:207.8px;top:160px" width="8.400" height="5" viewBox="0 0 8.400 5"><path d="M0.400 0.400L4.200 4.200L8 0.400" fill="none" stroke="#888" stroke-width="1"/></svg>
<div class="t lb" style="left:12.5px;top:193.2px;font-size:12px">Custom Fusion Chart</div>
<div class="abs du" style="left:12.5px;top:199.7px;width:113.4px"></div>
<div class="abs bx" style="left:12.4px;top:202.2px;width:214.6px;height:30.0px"></div>
<div class="t" style="left:23px;top:217.4px;font-family:'Liberation Mono',monospace;font-size:11.57px;color:#1c3a9c"><b>{{</b><span style="color:#3a5aa6;-webkit-text-stroke:0.25px #3a5aa6">Utils</span><span style="color:#666">.</span><span style="color:#b5a079;-webkit-text-stroke:0.2px #b5a079">getDeliveries</span><span style="color:#555">()</span><b>}}</b></div>
<div class="hr" style="left:0;top:245.5px;width:240px;background:#ededed"></div>
<div class="t sh" style="left:12.6px;top:267px;font-size:11.9px">General</div>
<svg style="left:214px;top:263.20000000000005px" width="9" height="5.500" viewBox="0 0 9 5.500"><path d="M0.500 0.500L4.500 4.500L8.500 0.500" fill="none" stroke="#333" stroke-width="1.300"/></svg>
<div class="t lb" style="left:12.5px;top:291px;font-size:12.1px">Title</div>
<div class="abs du" style="left:12.5px;top:296.9px;width:22.9px"></div>
<div class="abs bx" style="left:12.4px;top:299.7px;width:214.6px;height:46.1px"></div>
<div class="t mn" style="left:21.7px;top:314.5px">Expected v/s actual</div>
<div class="t mn" style="left:21.7px;top:333px">delivery dates</div>
<div class="t lb" style="left:12.5px;top:364.5px;font-size:12.1px">Visible</div>
<div class="abs du" style="left:12.5px;top:371.0px;width:35.5px"></div>
<div class="js" style="left:54.9px;top:356.3px">JS</div>
<div class="abs" style="left:197.3px;top:356.1px;width:29.4px;height:16.6px;border-radius:8.300px;background:#0d0d0d"></div>
<div class="abs" style="left:211.4px;top:357.35px;width:14.1px;height:14.1px;border-radius:50%;background:#fff"></div>
<div class="t lb" style="left:12.5px;top:394.9px;font-size:12px">Animate Loading</div>
<div class="abs du" style="left:12.5px;top:401.4px;width:89.9px"></div>
<div class="js" style="left:109.2px;top:386.7px">JS</div>
<div class="abs" style="left:197.3px;top:386.5px;width:29.4px;height:16.6px;border-radius:8.300px;background:#0d0d0d"></div>
<div class="abs" style="left:211.4px;top:387.75px;width:14.1px;height:14.1px;border-radius:50%;background:#fff"></div>
<div class="hr" style="left:0;top:419.5px;width:240px;background:#ededed"></div>
<div class="t sh" style="left:12.6px;top:439.6px;font-size:12.1px">Axis</div>
<svg style="left:214px;top:436.70000000000005px" width="9" height="5.500" viewBox="0 0 9 5.500"><path d="M0.500 0.500L4.500 4.500L8.500 0.500" fill="none" stroke="#333" stroke-width="1.300"/></svg>
<div class="t lb" style="left:12.5px;top:466.9px;font-size:12.05px">Adaptive Axis</div>
<div class="abs du" style="left:12.5px;top:473.4px;width:72.4px"></div>
<div class="abs" style="left:197.3px;top:458.6px;width:29.4px;height:16.6px;border-radius:8.300px;background:#d4d6df"></div>
<div class="abs" style="left:198.8px;top:459.90000000000003px;width:14px;height:14px;border-radius:50%;background:#fff;border:1px solid #b9bac4"></div>
<div class="hr" style="left:0;top:491.5px;width:240px;background:#ededed"></div>
<div class="t sh" style="left:12.6px;top:512.1px;font-size:12px">Events</div>
<svg style="left:214px;top:509.20000000000005px" width="9" height="5.500" viewBox="0 0 9 5.500"><path d="M0.500 0.500L4.500 4.500L8.500 0.500" fill="none" stroke="#333" stroke-width="1.300"/></svg>
<div class="t lb" style="left:12.5px;top:536.5px;font-size:12px">onDataPointClick</div>
<div class="abs du" style="left:12.5px;top:543.0px;width:92px"></div>
<div class="js" style="left:111.5px;top:528.3px">JS</div>
<div class="abs bx" style="left:12.4px;top:549.1px;width:214.6px;height:29.4px"></div>
<div class="t" style="left:23.5px;top:564.5px;font-size:12.1px;color:#333">No action</div>
<svg style="left:204.6px;top:562.2px" width="8" height="4" viewBox="0 0 8 4"><path d="M0 0H8L4 4Z" fill="#333"/></svg>
<div class="hr" style="left:0;top:645.9px;width:240px;background:#ededed"></div>
<svg style="left:205px;top:654px" width="17" height="11" viewBox="1245 722 17 11"><ellipse cx="1253.300" cy="724.400" rx="2" ry="1" fill="#666"/><path d="M1249.400 727.200Q1249.400 726.200 1250.400 726.200H1256.200Q1257.200 726.200 1257.200 727.200V734H1249.400Z" fill="#6b6b6b"/><path d="M1247.100 725.300L1249.700 727.200M1259.600 725.300L1257 727.200" stroke="#666" stroke-width="1.200" stroke-linecap="round" fill="none"/><path d="M1246.600 729.800H1249.600M1257 729.800H1260" stroke="#666" stroke-width="1.400" fill="none"/></svg>
</div>

</div>
</body>
</html>
